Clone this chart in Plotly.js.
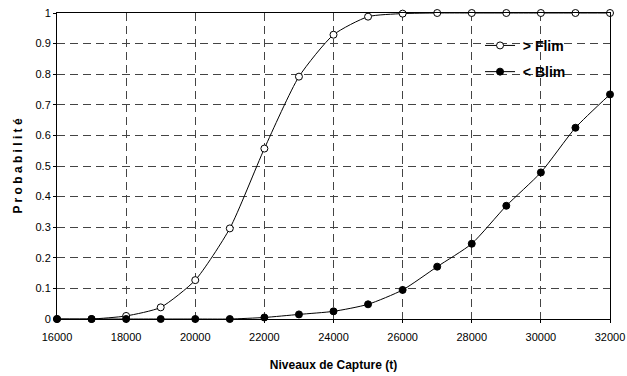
<!DOCTYPE html>
<html>
<head>
<meta charset="utf-8">
<script src="https://cdn.plot.ly/plotly-3.0.1.min.js"></script>
<style>
  html, body { margin: 0; padding: 0; background: #fff; }
  #chart { width: 627px; height: 376px; }
</style>
</head>
<body>
<div id="chart"></div>
<script>
// Catch levels (tonnes)
const captureLevels = [16000, 17000, 18000, 19000, 20000, 21000, 22000, 23000, 24000,
                       25000, 26000, 27000, 28000, 29000, 30000, 31000, 32000];
// Probability of exceeding Flim
const probFlim = [0, 0, 0.01, 0.038, 0.127, 0.296, 0.557, 0.792, 0.929,
                  0.988, 0.998, 1, 1, 1, 1, 1, 1];
// Probability of falling below Blim
const probBlim = [0, 0, 0, 0, 0, 0, 0.005, 0.015, 0.025,
                  0.048, 0.095, 0.171, 0.246, 0.370, 0.479, 0.625, 0.734];

const seriesNames = ['> Flim', '< Blim'];
const xTicks = [16000, 18000, 20000, 22000, 24000, 26000, 28000, 30000, 32000];
const yTicks = [0, 0.1, 0.2, 0.3, 0.4, 0.5, 0.6, 0.7, 0.8, 0.9, 1];

const lineStyle = { color: '#000', width: 1, shape: 'spline', smoothing: 0.6 };

const traces = [
  {
    x: captureLevels, y: probFlim, name: '\u2009' + seriesNames[0],
    legendgroup: 'flim',
    type: 'scatter', mode: 'lines+markers',
    line: lineStyle,
    marker: { symbol: 'circle', size: 7, color: '#fff', line: { color: '#000', width: 1 } },
    cliponaxis: false
  },
  {
    x: captureLevels, y: probBlim, name: '\u2009' + seriesNames[1],
    legendgroup: 'blim',
    type: 'scatter', mode: 'lines+markers',
    line: lineStyle,
    marker: { symbol: 'circle', size: 7, color: '#000', line: { color: '#000', width: 1 } },
    cliponaxis: false
  }
];

const gridStyle = { showgrid: true, gridcolor: '#444', gridwidth: 1, griddash: '8px,5px' };

const layout = {
  width: 627, height: 376,
  margin: { l: 57, r: 17, t: 13, b: 57 },
  paper_bgcolor: '#fff', plot_bgcolor: '#fff',
  font: { family: 'Arial, "Liberation Sans", sans-serif', size: 11, color: '#000' },
  showlegend: true,
  legend: {
    x: 0.765, y: 0.945, xanchor: 'left', yanchor: 'top',
    bgcolor: 'rgba(0,0,0,0)', borderwidth: 0,
    font: { size: 14, color: '#000', family: 'Arial, "Liberation Sans", sans-serif', weight: 'bold' },
    itemwidth: 30, tracegroupgap: 5
  },
  xaxis: Object.assign({
    range: [16000, 32000],
    tickvals: xTicks, ticktext: xTicks.map(String),
    ticks: 'outside', ticklen: 3, tickcolor: '#000',
    ticklabelstandoff: 5,
    showline: true, linecolor: '#000', linewidth: 1, mirror: true,
    zeroline: false,
    tickfont: { size: 11 },
    title: { text: 'Niveaux de Capture (t)', font: { size: 12, weight: 'bold' }, standoff: 18 }
  }, gridStyle),
  yaxis: Object.assign({
    range: [0, 1],
    tickvals: yTicks, ticktext: yTicks.map(String),
    ticks: 'outside', ticklen: 3, tickcolor: '#000',
    showline: true, linecolor: '#000', linewidth: 1, mirror: true,
    zeroline: false,
    tickfont: { size: 11 },
    title: { text: 'P r o b a b i l i t é', font: { size: 12, weight: 'bold' }, standoff: 10 }
  }, gridStyle)
};

Plotly.newPlot('chart', traces, layout, { staticPlot: true, displayModeBar: false });
</script>
</body>
</html>
